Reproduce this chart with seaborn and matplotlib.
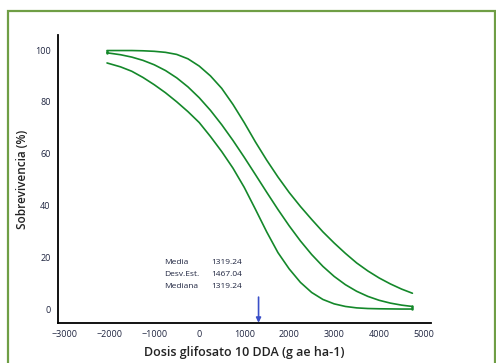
import numpy as np
import pandas as pd
import matplotlib
matplotlib.use("Agg")
import matplotlib.pyplot as plt
from matplotlib.patches import Rectangle
import seaborn as sns

# Dose grid (g ae ha-1) and survival curves (%): fitted line with its upper / lower bands
dose = [-2050, -1750, -1500, -1250, -1000, -750, -500, -250, 0, 250, 500, 750,
        1000, 1250, 1500, 1750, 2000, 2250, 2500, 2750, 3000, 3250, 3500,
        3750, 4000, 4250, 4500, 4740]
surv_fit = [98.92, 98.18, 97.27, 96.0, 94.3, 92.08, 89.25, 85.76, 81.58, 76.70,
            71.17, 65.10, 58.62, 51.89, 45.10, 38.45, 32.13, 26.29, 21.05, 16.47,
            12.60, 9.41, 6.86, 4.88, 3.38, 2.29, 1.51, 0.99]
surv_upper = [99.8, 99.8, 99.8, 99.7, 99.5, 99.1, 98.3, 96.6, 93.8, 90.0,
              85.2, 79.0, 72.0, 64.5, 57.5, 51.0, 45.0, 39.6, 34.6, 29.8,
              25.5, 21.5, 17.8, 14.7, 12.0, 9.7, 7.7, 6.1]
surv_lower = [95.0, 93.5, 91.8, 89.4, 86.6, 83.5, 80.0, 76.2, 72.0, 66.6,
              60.8, 54.4, 47.0, 38.5, 29.8, 21.8, 15.5, 10.3, 6.4, 3.7,
              2.0, 1.0, 0.45, 0.2, 0.1, 0.05, 0.0, 0.0]

stat_names = ["Media", "Desv.Est.", "Mediana"]
stat_values = [1319.24, 1467.04, 1319.24]
median_dose = stat_values[2]

x_ticks = [-3000, -2000, -1000, 0, 1000, 2000, 3000, 4000, 5000]
y_ticks = [0, 20, 40, 60, 80, 100]

df = pd.concat([
    pd.DataFrame({"dose": dose, "surv": surv_upper, "curve": "upper"}),
    pd.DataFrame({"dose": dose, "surv": surv_fit, "curve": "fit"}),
    pd.DataFrame({"dose": dose, "surv": surv_lower, "curve": "lower"}),
])

sns.set_style("white")
plt.rcParams["font.family"] = ["Open Sans", "DejaVu Sans"]

green = "#14882a"
text_col = "#1f2540"

fig = plt.figure(figsize=(4.96, 3.63), dpi=100)
fig.patch.set_facecolor("white")
ax = fig.add_axes([0.1163, 0.1094, 0.868 - 0.1163, 0.9036 - 0.1094])

sns.lineplot(data=df, x="dose", y="surv", hue="curve", units="curve",
             estimator=None, sort=False,
             palette={"upper": green, "fit": green, "lower": green},
             linewidth=1.2, legend=False, ax=ax)
# closing segments of the band outline at both ends
ax.plot([dose[0], dose[0]], [surv_fit[0], surv_upper[0]], color=green, lw=1.8)
ax.plot([dose[-1], dose[-1]], [surv_lower[-1], surv_fit[-1]], color=green, lw=1.8)

ax.set_xlim(-3147, 5143)
ax.set_ylim(-5.5, 105.8)
ax.set_xticks(x_ticks)
ax.set_yticks(y_ticks)
ax.tick_params(axis="both", direction="out", length=3, width=1.0, colors="black",
               labelsize=6.5, labelcolor=text_col, pad=2)
for side in ["top", "right"]:
    ax.spines[side].set_visible(False)
for side in ["left", "bottom"]:
    ax.spines[side].set_color("black")
    ax.spines[side].set_linewidth(1.3)

ax.set_xlabel("Dosis glifosato 10 DDA (g ae ha-1)", fontsize=9, fontweight="semibold",
              color="#222222", labelpad=5)
ax.set_ylabel("Sobrevivencia (%)", fontsize=8.5, fontweight="semibold",
              color="#222222", labelpad=4)

# summary statistics block
for i, (name, val) in enumerate(zip(stat_names, stat_values)):
    yy = 18.0 - i * 4.65
    ax.text(-780, yy, name, fontsize=6, color=text_col, va="center", ha="left")
    ax.text(270, yy, f"{val:.2f}", fontsize=6, color=text_col, va="center", ha="left")

# arrow marking the median dose
ax.annotate("", xy=(median_dose, -5.3), xytext=(median_dose, 4.6),
            arrowprops=dict(arrowstyle="-|>", color="#3a4fc8", lw=1.2,
                            mutation_scale=7, shrinkA=0, shrinkB=0))

# green frame around the plot
fig.patches.append(Rectangle((8 / 496, -0.05), (495 - 8) / 496, (363 - 11) / 363 + 0.05,
                             transform=fig.transFigure, fill=False,
                             edgecolor="#6f9e45", linewidth=1.6))

fig.savefig("out.png", dpi=100)
